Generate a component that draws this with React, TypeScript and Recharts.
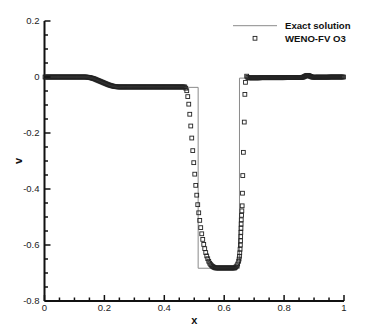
import React from 'react';
import { ComposedChart, Line, Scatter, XAxis, YAxis } from 'recharts';

// WENO-FV O3 cell values on the uniform grid, cells 0..194 (x = (i + 0.5) / 300)
const cells = 300;
const leftV = [
  0, 0, 0, 0, 0, 0, 0, 0, 0, 0, 0, 0, 0, 0,
  0, 0, 0, 0, 0, 0, 0, 0, 0, 0, 0, 0, 0, 0,
  0, 0, 0, 0, 0, 0, 0, 0, 0, 0, 0, 0, 0, 0,
  -0.0005, -0.001, -0.0015, -0.002, -0.003, -0.004, -0.005, -0.006, -0.0075, -0.009, -0.0105,
  -0.012, -0.0135, -0.015, -0.0165, -0.018, -0.0195, -0.021, -0.0225, -0.024, -0.0255, -0.027,
  -0.0283, -0.0295, -0.0306, -0.0316, -0.0325, -0.0333, -0.034, -0.0346, -0.035, -0.0353, -0.0355,
  -0.0355, -0.0355, -0.0355, -0.0355, -0.0355, -0.0355, -0.0355, -0.0355, -0.0355, -0.0355, -0.0355,
  -0.0355, -0.0355, -0.0355, -0.0355, -0.0355, -0.0355, -0.0355, -0.0355, -0.0355, -0.0355, -0.0355,
  -0.0355, -0.0355, -0.0355, -0.0355, -0.0355, -0.0355, -0.0355, -0.0355, -0.0355, -0.0355, -0.0355,
  -0.0355, -0.0355, -0.0355, -0.0355, -0.0355, -0.0355, -0.0355, -0.0355, -0.0355, -0.0355, -0.0355,
  -0.0355, -0.0355, -0.0355, -0.0355, -0.0355, -0.0355, -0.0355, -0.0355, -0.0355, -0.0355, -0.0355,
  -0.0355, -0.0355, -0.0355, -0.0355, -0.0355, -0.0355, -0.0355, -0.0355, -0.0355, -0.0355, -0.0355,
  -0.040, -0.049, -0.070, -0.097, -0.133, -0.175, -0.218, -0.263, -0.306, -0.347,
  -0.387, -0.422, -0.456, -0.485, -0.512, -0.538, -0.560, -0.580, -0.598, -0.613,
  -0.627, -0.639, -0.649, -0.658, -0.665, -0.670, -0.674, -0.677, -0.679, -0.681,
  -0.682, -0.682, -0.682, -0.682, -0.682, -0.682, -0.682, -0.682, -0.682, -0.682,
  -0.682, -0.682, -0.682, -0.682, -0.682, -0.682, -0.682, -0.682, -0.682, -0.682,
  -0.679, -0.675, -0.668, -0.658,
];

// compressed points on the right jump
const ascentX = [
  0.6497, 0.651, 0.652, 0.653, 0.654, 0.6545, 0.655, 0.6555, 0.656, 0.6565,
  0.657, 0.658, 0.659, 0.66, 0.661, 0.662, 0.664, 0.667, 0.669, 0.671,
];
const ascentV = [
  -0.65, -0.64, -0.628, -0.615, -0.6, -0.585, -0.57, -0.555, -0.54, -0.525,
  -0.51, -0.494, -0.478, -0.46, -0.415, -0.352, -0.269, -0.161, -0.062, -0.019,
];

// cells 202..299
const rightStart = 202;
const rightV = [
  0.003, -0.001,
  -0.003, -0.003, -0.003, -0.003, -0.003, -0.003, -0.003, -0.003, -0.003, -0.003, -0.003, -0.003,
  -0.0025, -0.0025, -0.0025, -0.0025, -0.0025, -0.0025, -0.0025, -0.0025, -0.0025, -0.0025,
  -0.0025, -0.0025, -0.0025, -0.0025, -0.0025, -0.0025, -0.0025, -0.0025, -0.0025, -0.0025,
  -0.0025, -0.0025, -0.0025, -0.0025, -0.0025,
  -0.002, -0.002, -0.002, -0.002, -0.002, -0.002, -0.002, -0.002,
  -0.002, -0.002, -0.002, -0.002, -0.002, -0.002, -0.002, -0.002,
  -0.0015, -0.001, 0, 0.002, 0.004, 0.0055, 0.006, 0.0055, 0.004, 0.002, 0.0005, -0.0005, -0.001,
  -0.0005, -0.0005, -0.0005, -0.0005, -0.0005, -0.0005, -0.0005, -0.0005,
  -0.0005, -0.0005, -0.0005, -0.0005, -0.0005, -0.0005, -0.0005,
  0, 0, 0, 0, 0, 0, 0, 0, 0, 0, 0, 0, 0, 0, 0,
];

const exactX = [0, 0.14, 0.16, 0.18, 0.2, 0.22, 0.24, 0.255, 0.265, 0.513, 0.513, 0.651, 0.651, 1];
const exactV = [0, 0, -0.004, -0.011, -0.019, -0.027, -0.033, -0.036, -0.037, -0.037, -0.683, -0.683, -0.004, -0.004];

const xTicks = [0, 0.05, 0.1, 0.15, 0.2, 0.25, 0.3, 0.35, 0.4, 0.45, 0.5, 0.55, 0.6, 0.65, 0.7, 0.75, 0.8, 0.85, 0.9, 0.95, 1];
const yTicks = [-0.8, -0.75, -0.7, -0.65, -0.6, -0.55, -0.5, -0.45, -0.4, -0.35, -0.3, -0.25, -0.2, -0.15, -0.1, -0.05, 0, 0.05, 0.1, 0.15, 0.2];

const scatterData = [
  ...leftV.map((v, i) => ({ x: (i + 0.5) / cells, v })),
  ...ascentX.map((x, i) => ({ x, v: ascentV[i] })),
  ...rightV.map((v, i) => ({ x: (i + rightStart + 0.5) / cells, v })),
];
const exactData = exactX.map((x, i) => ({ x, v: exactV[i] }));

const font = '"Liberation Sans", Arial, Helvetica, sans-serif';
const isMajor = (v: number) => Math.abs(v * 5 - Math.round(v * 5)) < 1e-6;
const fmt = (v: number) => String(Number(v.toFixed(2)));

function XTick({ x, y, payload }: any) {
  const v = payload.value;
  const major = isMajor(v);
  return (
    <g>
      <line x1={x} x2={x} y1={y} y2={y - (major ? 6 : 3.5)} stroke="#111" strokeWidth={1.5} />
      {major && (
        <text x={x} y={y + 10} textAnchor="middle" fontSize={9.5} fontFamily={font} fill="#222">
          {fmt(v)}
        </text>
      )}
    </g>
  );
}

function YTick({ x, y, payload }: any) {
  const v = payload.value;
  const major = isMajor(v);
  return (
    <g>
      <line x1={x} x2={x + (major ? 6 : 3.5)} y1={y} y2={y} stroke="#111" strokeWidth={1.5} />
      {major && (
        <text x={x - 5} y={y} dy="0.35em" textAnchor="end" fontSize={9.5} fontFamily={font} fill="#222">
          {fmt(v)}
        </text>
      )}
    </g>
  );
}

const square = (p: any) => (
  <rect x={p.cx - 1.9} y={p.cy - 1.9} width={3.8} height={3.8} fill="none" stroke="#222" strokeWidth={0.9} />
);

export default function App() {
  return (
    <div style={{ position: 'absolute', left: 0, top: 0, width: 374, height: 332, background: '#fff' }}>
      <ComposedChart width={374} height={332} margin={{ top: 21, right: 30, bottom: 0, left: 0 }}>
        <XAxis
          type="number"
          dataKey="x"
          domain={[0, 1]}
          ticks={xTicks}
          interval={0}
          tick={(p: any) => <XTick {...p} />}
          tickLine={false}
          tickSize={0}
          tickMargin={0}
          height={31}
          axisLine={{ stroke: '#111', strokeWidth: 2 }}
          label={(p: any) => (
            <text
              x={p.viewBox.x + p.viewBox.width / 2}
              y={p.viewBox.y + 23}
              textAnchor="middle"
              fontSize={11}
              fontWeight="bold"
              fontFamily={font}
              fill="#111"
            >
              x
            </text>
          )}
        />
        <YAxis
          type="number"
          dataKey="v"
          domain={[-0.8, 0.2]}
          ticks={yTicks}
          interval={0}
          tick={(p: any) => <YTick {...p} />}
          tickLine={false}
          tickSize={0}
          tickMargin={0}
          width={44.5}
          axisLine={{ stroke: '#111', strokeWidth: 2 }}
          label={(p: any) => {
            const cx = p.viewBox.x + 18;
            const cy = p.viewBox.y + p.viewBox.height / 2;
            return (
              <text
                x={cx}
                y={cy}
                dy="0.35em"
                textAnchor="middle"
                transform={`rotate(-90 ${cx} ${cy})`}
                fontSize={11}
                fontWeight="bold"
                fontFamily={font}
                fill="#111"
              >
                v
              </text>
            );
          }}
        />
        <Line
          data={exactData}
          dataKey="v"
          type="linear"
          stroke="#8a8a8a"
          strokeWidth={1}
          dot={false}
          isAnimationActive={false}
        />
        <Scatter data={scatterData} dataKey="v" shape={square} isAnimationActive={false} />
      </ComposedChart>
      <svg width={374} height={332} style={{ position: 'absolute', left: 0, top: 0, pointerEvents: 'none' }}>
        <line x1={233} x2={277} y1={25.7} y2={25.7} stroke="#8a8a8a" strokeWidth={1} />
        <rect x={253.1} y={36.4} width={3.8} height={3.8} fill="none" stroke="#222" strokeWidth={0.9} />
        <text x={285} y={29.2} fontSize={9.6} fontWeight="bold" fontFamily={font} fill="#111">
          Exact solution
        </text>
        <text x={285} y={41.8} fontSize={9.6} fontWeight="bold" fontFamily={font} fill="#111">
          WENO-FV O3
        </text>
      </svg>
    </div>
  );
}
